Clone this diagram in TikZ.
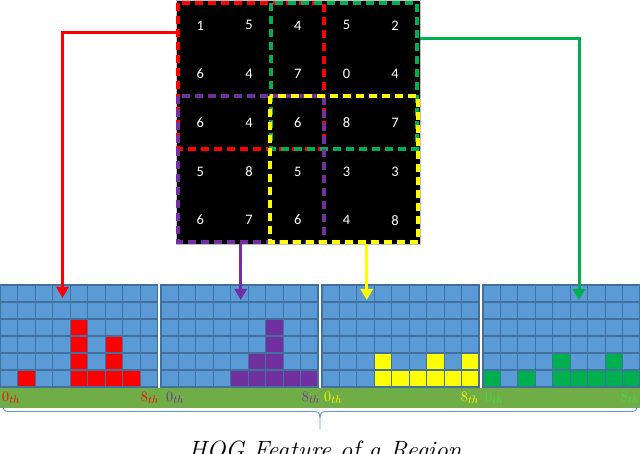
\documentclass[tikz,border=0pt]{standalone}
\usepackage{fontspec}
\newfontfamily\cellfont{Carlito}
\usetikzlibrary{arrows.meta}
\definecolor{cblue}{HTML}{5B9BD5}
\definecolor{cblueb}{HTML}{41719C}
\definecolor{cpurple}{HTML}{7030A0}
\definecolor{cgreen}{HTML}{00B050}
\definecolor{cbar}{HTML}{70AD47}
\definecolor{cyel}{HTML}{FFFF00}
\definecolor{lgreen}{HTML}{40E040}
\newcommand\hogpanel[3]{%
  \foreach \hh [count=\cc from 0] in {#3} {
    \foreach \rr in {0,...,5} {
      \ifnum\rr<\hh\relax \def\fc{#2}\else\def\fc{cblue}\fi
      \filldraw[fill=\fc, draw=cblueb, line width=1.1pt]
        ({#1+\cc*157/9}, {387-(\rr+1)*17}) rectangle ++(157/9,17);
    }
  }
}
\tikzset{
  conn/.style={line width=3pt, -{Triangle[width=12pt,length=11pt]}},
  dbox/.style={line width=3.2pt, dash pattern=on 8pt off 5pt},
  num/.style={text=white, font=\cellfont\fontsize{14.5}{16}\selectfont, inner sep=0pt},
  chlab/.style={font=\fontsize{15}{17}\selectfont, inner sep=0pt},
  panel/.style={minimum width=157pt, minimum height=102pt, inner sep=0pt, anchor=north west}
}
\begin{document}
\begin{tikzpicture}[x=1pt,y=-1pt]
\useasboundingbox (0,0) rectangle (640,454);
% input grid
\node[fill=black, draw=gray!50, line width=0.8pt, minimum width=243.5pt, minimum height=243.5pt, inner sep=0pt, anchor=north west] (grid) at (176,0.5) {};
\foreach \row [count=\r from 0] in {{1,5,4,5,2},{6,4,7,0,4},{6,4,6,8,7},{5,8,5,3,3},{6,7,6,4,8}} {
  \foreach \v [count=\c from 0] in \row {
    \node[num] (n\r\c) at ({176+48.7*(\c+0.5)}, {1+48.7*(\r+0.5)}) {\v};
  }
}
\draw[dbox, red] (178,3) rectangle (324,149);
\draw[dbox, cgreen] (271,3) rectangle (417,149);
\draw[dbox, cpurple] (178,96) rectangle (324,242);
\draw[dbox, cyel] (270,96) rectangle (418,242);
% histogram panels
\node[panel] (p1) at (0.5,285) {};
\node[panel] (p2) at (161,285) {};
\node[panel] (p3) at (322,285) {};
\node[panel] (p4) at (483,285) {};
\hogpanel{0.5}{red}{0,1,0,0,4,1,3,1,0}
\hogpanel{161}{cpurple}{0,0,0,0,1,2,4,1,1}
\hogpanel{322}{cyel}{0,0,0,2,1,1,2,1,2}
\hogpanel{483}{cgreen}{1,0,1,0,2,1,1,2,1}
% green bar
\node[fill=cbar, minimum width=640pt, minimum height=20pt, inner sep=0pt, anchor=north west] (bar) at (0,388) {};
\node[chlab, text=red, anchor=base west] (l1a) at (2,401) {$0_{th}$};
\node[chlab, text=red, anchor=base east] (l1b) at (159,401) {$8_{th}$};
\node[chlab, text=cpurple, anchor=base west] (l2a) at (166,401) {$0_{th}$};
\node[chlab, text=cpurple, anchor=base east] (l2b) at (320,401) {$8_{th}$};
\node[chlab, text=cyel, anchor=base west] (l3a) at (324,401) {$0_{th}$};
\node[chlab, text=cyel, anchor=base east] (l3b) at (479,401) {$8_{th}$};
\node[chlab, text=lgreen, anchor=base west] (l4a) at (485,401) {$0_{th}$};
\node[chlab, text=lgreen, anchor=base east] (l4b) at (639,401) {$8_{th}$};
% connectors
\coordinate (rs) at (176,32.3);
\coordinate (rtip) at (62.5,298);
\coordinate (gs) at (419.5,38.3);
\coordinate (gtip) at (579,300);
\coordinate (ps) at (240.7,244);
\coordinate (ptip) at (240.7,300);
\coordinate (ys) at (366.7,244);
\coordinate (ytip) at (366.7,300);
\draw[conn, red] (rs) -| (rtip);
\draw[conn, cgreen] (gs) -| (gtip);
\draw[conn, cpurple] (ps) -- (ptip);
\draw[conn, cyel] (ys) -- (ytip);
% brace
\draw[cblue, line width=0.9pt]
  (3,404) .. controls (3,410) and (4,411.5) .. (9,411.5) -- (314,411.5)
  .. controls (318,411.5) and (320,413) .. (320,418) -- (320,429);
\draw[cblue, line width=0.9pt]
  (320,418) .. controls (320,413) and (322,411.5) .. (326,411.5) -- (631,411.5)
  .. controls (636,411.5) and (637,410) .. (637,404);
\node[anchor=base, font=\fontsize{25}{30}\selectfont\itshape, inner sep=0pt] (cap) at (325,458) {HOG Feature of a Region};
\end{tikzpicture}
\end{document}
